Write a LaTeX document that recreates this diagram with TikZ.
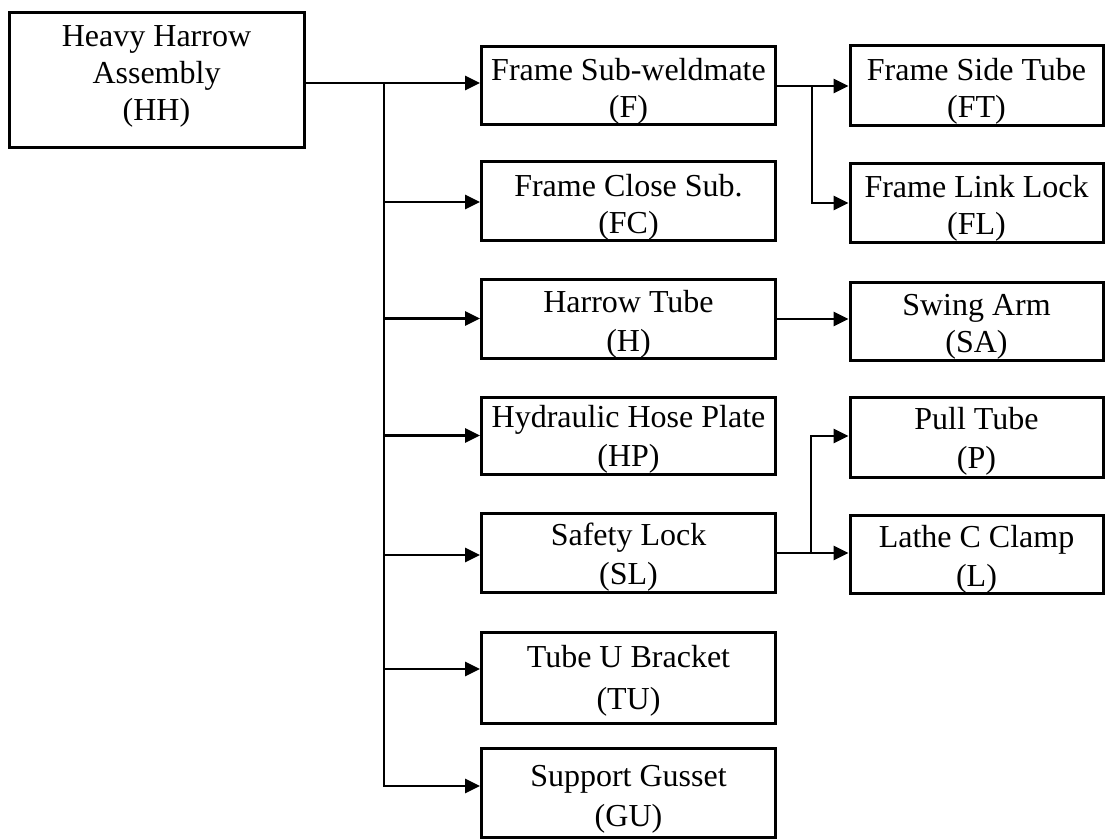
\documentclass[tikz,border=0pt]{standalone}
\usepackage{fontspec}
\setmainfont{Liberation Serif}
\usetikzlibrary{arrows.meta}
% zero-width struts that push a label down (taller first line) or up (deeper last line)
\newcommand\uppad[1]{\rule{0pt}{#1}}
\newcommand\lowpad[1]{\rule[-#1]{0pt}{1pt}}
\begin{document}
\begin{tikzpicture}[x=1pt,y=-1pt,
  part/.style={draw, line width=3pt, rectangle, align=center, inner sep=0pt,
               font=\fontsize{32}{#1}\selectfont},
  part/.default=37,
  topbox/.style={part=37, minimum width=295pt, minimum height=135pt},
  mainbox/.style={part=#1, minimum width=294pt},
  mainbox/.default=37,
  subbox/.style={part=#1, minimum width=253pt},
  subbox/.default=37,
  link/.style={line width=2.8pt, line join=miter},
  feed/.style={link, -{Triangle[length=15pt,width=14pt]}}]
\useasboundingbox (0,0) rectangle (1105,839);

% top assembly
\node[topbox] (HH) at (156.5,79.5) {Heavy Harrow\\Assembly\\(HH)\lowpad{13pt}};

% first-level sub-assemblies
\node[mainbox=37, minimum height=78pt] (F)  at (628.5,85)    {\uppad{34pt}Frame Sub-weldmate\\(F)};
\node[mainbox=37, minimum height=79pt] (FC) at (628.5,200.5) {\uppad{35pt}Frame Close Sub.\\(FC)};
\node[mainbox=39, minimum height=79pt] (H)  at (628.5,318.5) {\uppad{33pt}Harrow Tube\\(H)};
\node[mainbox=39, minimum height=77pt] (HP) at (628.5,435.5) {\uppad{30pt}Hydraulic Hose Plate\\(HP)};
\node[mainbox=39, minimum height=79pt] (SL) at (628.5,552.5) {\uppad{31pt}Safety Lock\\(SL)};
\node[mainbox=42, minimum height=91pt] (TU) at (628.5,677.5) {\uppad{28pt}Tube U Bracket\\(TU)};
\node[mainbox=40, minimum height=89pt] (GU) at (628.5,792.5) {\uppad{34pt}Support Gusset\\(GU)};

% second-level parts
\node[subbox=37, minimum height=80pt] (FT) at (976.5,85)    {\uppad{34pt}Frame Side Tube\\(FT)};
\node[subbox=37, minimum height=79pt] (FL) at (976.5,202.5) {\uppad{34pt}Frame Link Lock\\(FL)};
\node[subbox=37, minimum height=78pt] (SA) at (976.5,321)   {\uppad{33pt}Swing Arm\\(SA)};
\node[subbox=39, minimum height=80pt] (P)  at (976.5,437)   {\uppad{30pt}Pull Tube\\(P)};
\node[subbox=39, minimum height=78pt] (L)  at (976.5,554)   {\uppad{32pt}Lathe C Clamp\\(L)};

% arrow entry points on the boxes
\coordinate (Fin)  at ([yshift=2pt]F.west);
\coordinate (FCin) at ([yshift=-1.5pt]FC.west);
\coordinate (Hin)  at (H.west);
\coordinate (HPin) at (HP.west);
\coordinate (SLin) at ([yshift=-2.5pt]SL.west);
\coordinate (TUin) at ([yshift=8.5pt]TU.west);
\coordinate (GUin) at ([yshift=6.5pt]GU.west);
\coordinate (FTin) at ([yshift=-1pt]FT.west);
\coordinate (FLin) at ([yshift=-0.5pt]FL.west);
\coordinate (SAin) at ([yshift=2pt]SA.west);
\coordinate (Pin)  at ([yshift=1pt]P.west);
\coordinate (Lin)  at ([yshift=1pt]L.west);

% junctions
\coordinate (trunk) at (384,83);
\coordinate (fork1) at (812,86);
\coordinate (fork2) at (811,553);

% main trunk from the assembly
\draw[feed] (HH.east |- trunk) -- (Fin);
\draw[feed] (trunk) |- (GUin);
\draw[feed] (trunk |- FCin) -- (FCin);
\draw[feed] (trunk |- Hin)  -- (Hin);
\draw[feed] (trunk |- HPin) -- (HPin);
\draw[feed] (trunk |- SLin) -- (SLin);
\draw[feed] (trunk |- TUin) -- (TUin);

% frame sub-weldmate parts
\draw[feed] (F.east |- FTin) -- (FTin);
\draw[feed] (fork1) |- (FLin);

% harrow tube part
\draw[feed] (H.east |- SAin) -- (SAin);

% safety lock parts
\draw[feed] (SL.east |- Lin) -- (Lin);
\draw[feed] (fork2) |- (Pin);
\end{tikzpicture}
\end{document}
